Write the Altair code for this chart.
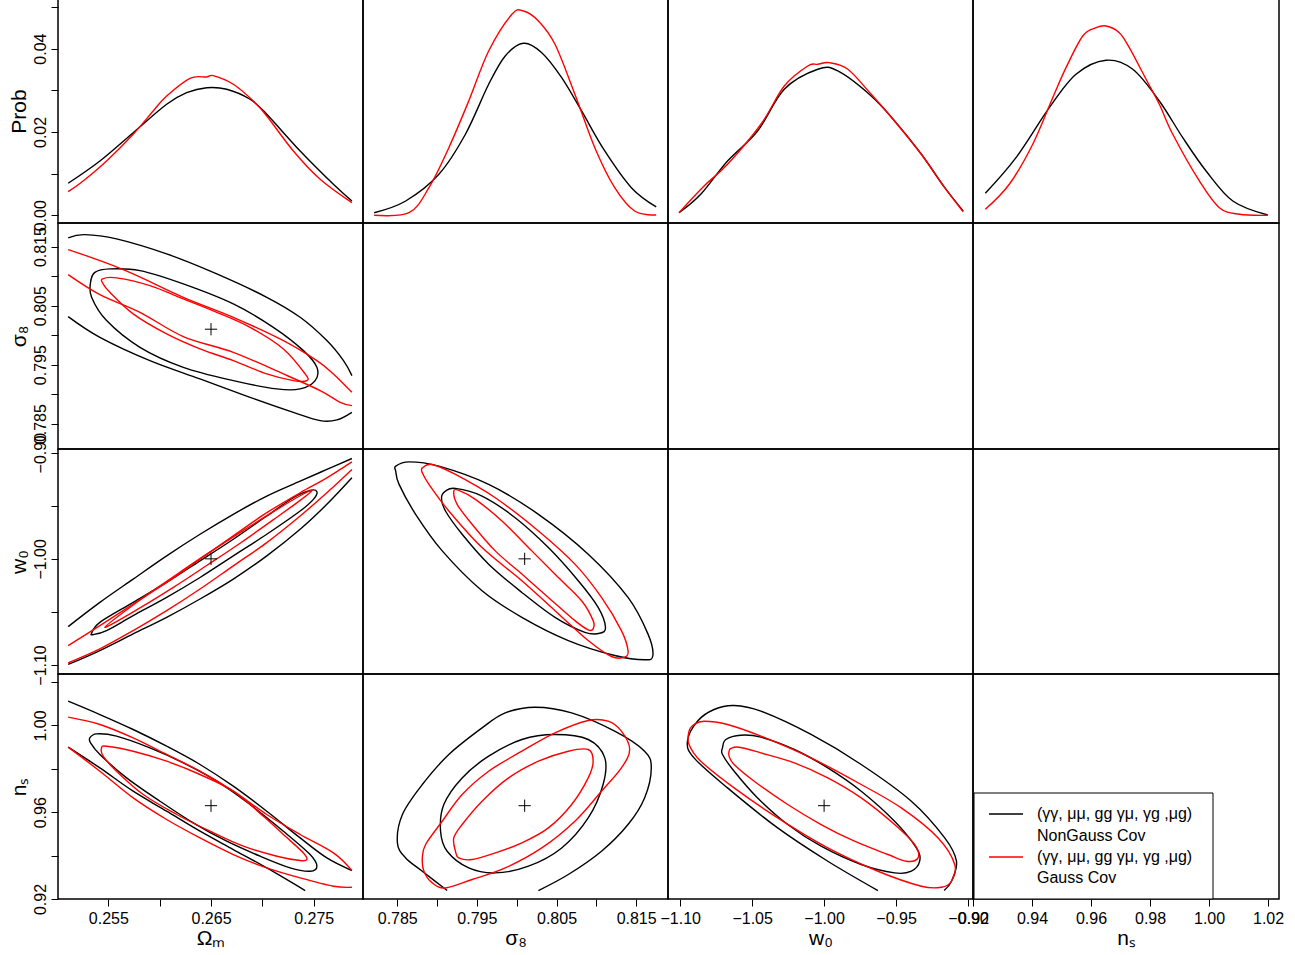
import altair as alt
import pandas as pd

FONT = "Liberation Sans"
BLACK = "#000000"
RED = "#ff0000"

# ---------------- axis ranges and ticks ----------------
om_domain = [0.2501, 0.2798]
s8_domain = [0.7807, 0.8190]
w0_domain = [-1.1085, -0.8965]
ns_domain = [0.9200, 1.0237]
prob_domain = [-0.00185, 0.0519]

om_ticks = [0.255, 0.260, 0.265, 0.270, 0.275]
s8_ticks = [0.785, 0.790, 0.795, 0.800, 0.805, 0.810, 0.815]
w0_ticks = [-1.10, -1.05, -1.00, -0.95, -0.90]
ns_ticks = [0.92, 0.94, 0.96, 0.98, 1.00, 1.02]
prob_ticks = [0.00, 0.01, 0.02, 0.03, 0.04, 0.05]

fid_om = [0.265]
fid_s8 = [0.801]
fid_w0 = [-1.0]
fid_ns = [0.963]

legend_line1 = "(\u03b3\u03b3, \u03bc\u03bc, gg \u03b3\u03bc, \u03b3g ,\u03bcg)"
legend_labels = [[legend_line1, "NonGauss Cov"], [legend_line1, "Gauss Cov"]]

# ---------------- 1D marginals ----------------
om_marg_black_x = [0.25109, 0.25418, 0.25742, 0.26068, 0.26263, 0.26458, 0.26653, 0.2688, 0.27043, 0.27368, 0.27692, 0.27872]
om_marg_black_p = [0.00768, 0.01303, 0.01982, 0.02664, 0.02942, 0.03062, 0.03024, 0.02784, 0.02424, 0.01543, 0.00744, 0.00343]
om_marg_red_x = [0.25109, 0.25255, 0.25483, 0.25742, 0.25937, 0.26068, 0.26295, 0.26458, 0.26522, 0.26717, 0.26912, 0.27043, 0.27302, 0.27563, 0.27872]
om_marg_red_p = [0.00566, 0.00823, 0.01303, 0.01944, 0.02503, 0.02863, 0.03288, 0.03319, 0.0335, 0.03144, 0.02743, 0.02383, 0.01543, 0.00864, 0.00302]

s8_marg_black_x = [0.7821, 0.78606, 0.79023, 0.79356, 0.79648, 0.79856, 0.80085, 0.80315, 0.80565, 0.80815, 0.81106, 0.8144, 0.81752]
s8_marg_black_p = [0.00062, 0.00343, 0.00984, 0.01944, 0.03144, 0.03823, 0.04128, 0.03902, 0.03302, 0.02503, 0.01543, 0.00662, 0.002]
s8_marg_red_x = [0.7821, 0.78648, 0.78898, 0.79148, 0.79398, 0.79648, 0.7994, 0.80085, 0.80273, 0.80481, 0.80731, 0.80981, 0.81231, 0.81481, 0.81752]
s8_marg_red_p = [0.0, 0.00062, 0.00662, 0.01622, 0.02743, 0.03943, 0.04824, 0.04903, 0.04663, 0.04104, 0.02904, 0.01622, 0.00662, 0.00103, 0.00007]

w0_marg_black_x = [-1.10085, -1.08573, -1.06712, -1.04621, -1.02767, -1.00439, -0.99045, -0.96724, -0.951, -0.93239, -0.91615, -0.90333]
w0_marg_black_p = [0.00062, 0.00504, 0.01303, 0.02023, 0.03024, 0.03504, 0.03463, 0.02863, 0.02263, 0.01464, 0.00662, 0.00103]
w0_marg_red_x = [-1.10085, -1.08343, -1.06712, -1.04391, -1.02767, -1.01136, -1.00439, -0.9963, -0.98348, -0.96724, -0.951, -0.93239, -0.91615, -0.90333]
w0_marg_red_p = [0.00062, 0.00703, 0.01224, 0.02184, 0.03103, 0.03583, 0.03624, 0.03662, 0.03504, 0.02904, 0.02263, 0.01464, 0.00662, 0.00086]

ns_marg_black_x = [0.92417, 0.93457, 0.94586, 0.95491, 0.96509, 0.97414, 0.98315, 0.99109, 0.99899, 1.00804, 1.0199]
ns_marg_black_p = [0.00528, 0.01382, 0.02582, 0.03384, 0.0372, 0.03504, 0.02743, 0.01862, 0.01063, 0.00343, 0.00007]
ns_marg_red_x = [0.92417, 0.9323, 0.94024, 0.94702, 0.95152, 0.95719, 0.9617, 0.96509, 0.96959, 0.97298, 0.97865, 0.98315, 0.9877, 0.99671, 1.00349, 1.01027, 1.0199]
ns_marg_red_p = [0.00144, 0.00744, 0.01704, 0.02822, 0.03542, 0.04303, 0.04502, 0.04543, 0.04382, 0.04022, 0.03264, 0.02664, 0.01944, 0.00823, 0.00182, 0.00024, 0.0]

# ---------------- Omega_m - sigma_8 contours ----------------
oms8_black_outer_top_x = [0.25109, 0.25271, 0.2558, 0.26068, 0.26556, 0.27043, 0.27368, 0.27628, 0.2779, 0.27872]
oms8_black_outer_top_y = [0.81648, 0.81703, 0.81631, 0.81376, 0.81037, 0.80641, 0.80302, 0.79907, 0.79568, 0.79314]
oms8_black_outer_bot_x = [0.25109, 0.25418, 0.25905, 0.26393, 0.2688, 0.27302, 0.27563, 0.27726, 0.27872]
oms8_black_outer_bot_y = [0.80314, 0.79963, 0.79568, 0.79258, 0.78946, 0.78691, 0.78551, 0.78563, 0.78691]
oms8_black_inner_x = [0.25327, 0.25369, 0.25515, 0.25808, 0.2623, 0.26717, 0.27107, 0.274, 0.27531, 0.27514, 0.27368, 0.27141, 0.26717, 0.2623, 0.25808, 0.25483, 0.25337]
oms8_black_inner_y = [0.80895, 0.81064, 0.81122, 0.81093, 0.80868, 0.80529, 0.80132, 0.79737, 0.79454, 0.79229, 0.79088, 0.79088, 0.79229, 0.79454, 0.79793, 0.80246, 0.80641]
oms8_red_outer_top_x = [0.25109, 0.25418, 0.25742, 0.2623, 0.26717, 0.27205, 0.27531, 0.27692, 0.27872]
oms8_red_outer_top_y = [0.81449, 0.81263, 0.81037, 0.80641, 0.80302, 0.79907, 0.79568, 0.79342, 0.7903]
oms8_red_outer_bot_x = [0.25109, 0.25418, 0.25808, 0.2623, 0.26717, 0.27205, 0.27563, 0.27758, 0.27872]
oms8_red_outer_bot_y = [0.81025, 0.80686, 0.80386, 0.79976, 0.79708, 0.79342, 0.79059, 0.78861, 0.78805]
oms8_red_inner_x = [0.25444, 0.2558, 0.25905, 0.2623, 0.26556, 0.2688, 0.27205, 0.27417, 0.27433, 0.27302, 0.27043, 0.26717, 0.26393, 0.26068, 0.25742, 0.25515, 0.2545]
oms8_red_inner_y = [0.80953, 0.8097, 0.80839, 0.80614, 0.80386, 0.80132, 0.79766, 0.79342, 0.79229, 0.79229, 0.79342, 0.79568, 0.79766, 0.8002, 0.80359, 0.80725, 0.80868]

# ---------------- Omega_m - w0 contours ----------------
omw0_black_outer_top_x = [0.25109, 0.25418, 0.25742, 0.26068, 0.26393, 0.26717, 0.27043, 0.27368, 0.27628, 0.27872]
omw0_black_outer_top_y = [-1.06385, -1.04103, -1.01906, -0.99718, -0.97681, -0.95803, -0.94084, -0.92676, -0.91577, -0.90544]
omw0_black_outer_bot_x = [0.25109, 0.25418, 0.25742, 0.26068, 0.26393, 0.26717, 0.27043, 0.27368, 0.27628, 0.27872]
omw0_black_outer_bot_y = [-1.09953, -1.08639, -1.07071, -1.05512, -1.03784, -1.01906, -0.99718, -0.97211, -0.94864, -0.92366]
omw0_black_inner_x = [0.25337, 0.25418, 0.25742, 0.26068, 0.26393, 0.26717, 0.27043, 0.27302, 0.27465, 0.27531, 0.27497, 0.27368, 0.27043, 0.26717, 0.26393, 0.26068, 0.25742, 0.25483, 0.25352]
omw0_black_inner_y = [-1.07014, -1.05981, -1.04103, -1.02225, -1.00188, -0.9815, -0.95962, -0.94244, -0.93549, -0.93681, -0.94394, -0.95493, -0.97681, -0.99718, -1.01756, -1.03634, -1.05352, -1.06761, -1.07136]
omw0_red_outer_top_x = [0.25109, 0.25418, 0.25742, 0.26068, 0.26393, 0.26717, 0.27043, 0.27368, 0.27628, 0.27872]
omw0_red_outer_top_y = [-1.08169, -1.06291, -1.04254, -1.02225, -1.00028, -0.9784, -0.95652, -0.93774, -0.92366, -0.90864]
omw0_red_outer_bot_x = [0.25109, 0.25418, 0.25742, 0.26068, 0.26393, 0.26717, 0.27043, 0.27368, 0.27628, 0.27872]
omw0_red_outer_bot_y = [-1.09794, -1.08479, -1.06761, -1.04883, -1.02845, -1.00657, -0.98469, -0.95962, -0.93774, -0.91577]
omw0_red_inner_x = [0.25466, 0.25808, 0.26133, 0.26458, 0.26783, 0.27107, 0.27368, 0.27482, 0.27368, 0.27107, 0.26783, 0.26458, 0.26133, 0.25808]
omw0_red_inner_y = [-1.06451, -1.03878, -1.0169, -0.99559, -0.9753, -0.95558, -0.94056, -0.93549, -0.94488, -0.9631, -0.98526, -1.00629, -1.02695, -1.04629]

# ---------------- Omega_m - n_s contours ----------------
omns_black_outer_top_x = [0.25109, 0.25418, 0.25742, 0.26068, 0.26393, 0.26717, 0.27043, 0.27368, 0.27628, 0.27872]
omns_black_outer_top_y = [1.01117, 1.0050, 0.99812, 0.99043, 0.9820, 0.97199, 0.96046, 0.94815, 0.93893, 0.93312]
omns_black_outer_bot_x = [0.25109, 0.25418, 0.25742, 0.26068, 0.26393, 0.26717, 0.27043, 0.27417]
omns_black_outer_bot_y = [0.98997, 0.98042, 0.96968, 0.96046, 0.95124, 0.9428, 0.93432, 0.9239]
omns_black_inner_x = [0.2532, 0.25386, 0.2558, 0.25905, 0.2623, 0.26556, 0.2688, 0.27205, 0.27465, 0.27531, 0.27465, 0.2727, 0.26978, 0.26653, 0.26327, 0.26003, 0.25678, 0.25418, 0.25327]
omns_black_inner_y = [0.99425, 0.9961, 0.99504, 0.98964, 0.98273, 0.97429, 0.96355, 0.95124, 0.9405, 0.93511, 0.9328, 0.93435, 0.93972, 0.94662, 0.95509, 0.96507, 0.97584, 0.98657, 0.99195]
omns_red_outer_top_x = [0.25109, 0.25418, 0.25742, 0.26068, 0.26393, 0.26717, 0.27043, 0.27368, 0.27692, 0.27872]
omns_red_outer_top_y = [1.0038, 1.00043, 0.99425, 0.9866, 0.9789, 0.96968, 0.95894, 0.94972, 0.94124, 0.93312]
omns_red_outer_bot_x = [0.25109, 0.25418, 0.25742, 0.26068, 0.26393, 0.26717, 0.27043, 0.27368, 0.27692, 0.27872]
omns_red_outer_bot_y = [0.98997, 0.9789, 0.96659, 0.95663, 0.94815, 0.9405, 0.93432, 0.92971, 0.92589, 0.92543]
omns_red_inner_x = [0.25434, 0.25483, 0.25742, 0.26068, 0.26393, 0.26717, 0.2701, 0.27205, 0.274, 0.27433, 0.27368, 0.27141, 0.26815, 0.2649, 0.26166, 0.2584, 0.2558, 0.2545]
omns_red_inner_y = [0.98964, 0.99043, 0.98812, 0.98351, 0.97738, 0.96968, 0.95816, 0.94972, 0.94124, 0.93819, 0.93773, 0.93972, 0.94433, 0.95124, 0.95894, 0.96816, 0.9789, 0.98582]

# ---------------- sigma_8 - w0 contours ----------------
s8w0_black_outer_x = [0.78481, 0.78648, 0.79023, 0.79648, 0.80273, 0.80898, 0.81398, 0.81648, 0.8171, 0.81606, 0.81231, 0.80648, 0.80065, 0.79565, 0.79065, 0.78731, 0.78523, 0.78481]
s8w0_black_outer_y = [-0.91267, -0.90863, -0.91267, -0.92986, -0.95803, -0.99559, -1.03634, -1.07071, -1.09108, -1.09512, -1.09108, -1.077, -1.05512, -1.03005, -0.99249, -0.95803, -0.92986, -0.91737]
s8w0_black_inner_x = [0.79056, 0.79106, 0.79231, 0.79565, 0.79981, 0.80398, 0.80773, 0.81023, 0.81115, 0.81044, 0.80856, 0.80481, 0.80065, 0.79648, 0.79315, 0.79106]
s8w0_black_inner_y = [-0.94244, -0.93615, -0.93361, -0.94084, -0.96122, -0.98939, -1.02066, -1.04573, -1.06451, -1.07014, -1.0692, -1.05512, -1.03164, -1.00498, -0.97681, -0.95493]
s8w0_red_outer_x = [0.78815, 0.7894, 0.79231, 0.79731, 0.80273, 0.80731, 0.81065, 0.81315, 0.81398, 0.81356, 0.8119, 0.80898, 0.80481, 0.80065, 0.79565, 0.79148, 0.78898, 0.78815]
s8w0_red_outer_y = [-0.91427, -0.91108, -0.92047, -0.94244, -0.97371, -1.00498, -1.03634, -1.06761, -1.08639, -1.09268, -1.09202, -1.077, -1.04883, -1.02066, -0.98939, -0.95493, -0.92986, -0.91896]
s8w0_red_inner_x = [0.7921, 0.79273, 0.79481, 0.79815, 0.8019, 0.80523, 0.80815, 0.8096, 0.8096, 0.80898, 0.80731, 0.80398, 0.80065, 0.79731, 0.7944, 0.79252]
s8w0_red_inner_y = [-0.93615, -0.93549, -0.94394, -0.96432, -0.99249, -1.01756, -1.03944, -1.05822, -1.06601, -1.06695, -1.05822, -1.03634, -1.01437, -0.99249, -0.96742, -0.94864]

# ---------------- sigma_8 - n_s contours ----------------
s8ns_black_outer_x = [0.79127, 0.78815, 0.78606, 0.78502, 0.78565, 0.78815, 0.79148, 0.79565, 0.79856, 0.80231, 0.8069, 0.81231, 0.81606, 0.8169, 0.81606, 0.81398, 0.81065, 0.80648, 0.80273]
s8ns_black_outer_y = [0.9239, 0.9328, 0.93893, 0.94585, 0.95894, 0.97277, 0.9866, 0.99886, 1.00578, 1.00841, 1.00578, 0.99734, 0.98812, 0.98042, 0.96659, 0.95433, 0.94202, 0.93128, 0.9239]
s8ns_black_inner_x = [0.79044, 0.79085, 0.79315, 0.79648, 0.80065, 0.80481, 0.80898, 0.81106, 0.81085, 0.80898, 0.80565, 0.80148, 0.79731, 0.79398, 0.79127]
s8ns_black_inner_y = [0.95124, 0.96355, 0.97581, 0.98582, 0.99351, 0.99582, 0.99351, 0.98503, 0.97277, 0.95737, 0.94354, 0.93511, 0.93202, 0.93432, 0.94202]
s8ns_red_outer_x = [0.78815, 0.78856, 0.79065, 0.79315, 0.79648, 0.80065, 0.80481, 0.80898, 0.81148, 0.81315, 0.81419, 0.81315, 0.81065, 0.80731, 0.80315, 0.79856, 0.7944, 0.79106, 0.7894, 0.78835]
s8ns_red_outer_y = [0.93893, 0.94511, 0.95585, 0.96816, 0.9789, 0.98812, 0.99656, 1.00227, 1.00195, 0.99734, 0.9889, 0.98042, 0.96968, 0.95585, 0.94354, 0.93432, 0.92897, 0.9251, 0.92741, 0.9328]
s8ns_red_inner_x = [0.79231, 0.7921, 0.79315, 0.79565, 0.79898, 0.80273, 0.80648, 0.80898, 0.8096, 0.80898, 0.8069, 0.80398, 0.80065, 0.79731, 0.7944, 0.79273]
s8ns_red_inner_y = [0.94202, 0.94815, 0.95433, 0.96507, 0.97581, 0.98351, 0.98812, 0.9889, 0.98351, 0.97581, 0.96355, 0.95276, 0.94585, 0.94124, 0.93819, 0.93893]

# ---------------- w0 - n_s contours ----------------
w0ns_black_outer_x = [-0.96257, -0.99742, -1.03227, -1.06712, -1.0904, -1.095, -1.08803, -1.07646, -1.06252, -1.04391, -1.00906, -0.97421, -0.93936, -0.91615, -0.908, -0.91148, -0.91657]
w0ns_black_outer_y = [0.9239, 0.93741, 0.95276, 0.9712, 0.98503, 0.99273, 1.00195, 1.00734, 1.00919, 1.00656, 0.99582, 0.98199, 0.96507, 0.94815, 0.93741, 0.92819, 0.9239]
w0ns_black_inner_x = [-1.07061, -1.06831, -1.05785, -1.04391, -1.0207, -0.99742, -0.97421, -0.951, -0.93588, -0.93358, -0.93936, -0.951, -0.97421, -1.00209, -1.0253, -1.04621, -1.06252, -1.07061]
w0ns_black_inner_y = [0.98964, 0.99351, 0.9955, 0.99458, 0.9889, 0.98042, 0.96968, 0.95585, 0.94354, 0.93741, 0.9328, 0.93202, 0.93589, 0.94433, 0.95433, 0.96659, 0.9789, 0.9866]
w0ns_red_outer_x = [-1.09389, -1.0904, -1.08343, -1.06712, -1.04391, -1.00906, -0.97421, -0.94633, -0.92075, -0.90918, -0.91148, -0.91845, -0.93239, -0.96257, -0.99742, -1.03227, -1.06252, -1.08573, -1.09389]
w0ns_red_outer_y = [0.99734, 1.00043, 1.00195, 1.00043, 0.99504, 0.98503, 0.97277, 0.96198, 0.94815, 0.93589, 0.92819, 0.92542, 0.92589, 0.9328, 0.94354, 0.95737, 0.9712, 0.98351, 0.99121]
w0ns_red_inner_x = [-1.066, -1.06482, -1.05904, -1.04391, -1.0207, -0.99742, -0.97421, -0.951, -0.93706, -0.93469, -0.94285, -0.9556, -0.97888, -1.00209, -1.0253, -1.04858, -1.06252, -1.066]
w0ns_red_inner_y = [0.98812, 0.98937, 0.98997, 0.98734, 0.98273, 0.97581, 0.96659, 0.95433, 0.94511, 0.93893, 0.93741, 0.9405, 0.94663, 0.95433, 0.96355, 0.97429, 0.98199, 0.98582]

# ---------------- layout ----------------
col_widths = [305, 305, 305, 306]
row_heights = [224, 226, 225, 225]

AXIS_COMMON = dict(
    tickColor="black", tickSize=7, tickWidth=1, labelColor="black", labelFont=FONT,
    labelFontSize=16, titleFont=FONT, titleFontSize=21, titleFontWeight="normal",
    titleColor="black", domain=False, grid=False, labelOverlap=False, labelFlush=False,
)


def left_axis(title, values, expr):
    return alt.Axis(title=title, values=values, labelExpr=expr, labelAngle=-90,
                    labelAlign="center", labelBaseline="bottom", labelPadding=3,
                    titlePadding=3, **AXIS_COMMON)


def bottom_axis(title, values, expr):
    return alt.Axis(title=title, values=values, labelExpr=expr, labelAngle=0,
                    labelAlign="center", labelBaseline="top", labelPadding=4,
                    titlePadding=1, **AXIS_COMMON)


def sc(domain):
    return alt.Scale(domain=domain, nice=False, zero=False)


CROSS = "M-1,0L1,0M0,-1L0,1"


def panel(w, h, xdom, ydom, xaxis, yaxis, curves, cross=None):
    xs, ys = sc(xdom), sc(ydom)
    layers = []
    for x, y, color, closed in curves:
        df = pd.DataFrame({"x": x, "y": y, "o": list(range(len(x)))})
        layers.append(
            alt.Chart(df).mark_line(
                color=color, strokeWidth=1.4, clip=True,
                interpolate="cardinal-closed" if closed else "cardinal",
            ).encode(
                x=alt.X("x:Q", scale=xs, axis=xaxis),
                y=alt.Y("y:Q", scale=ys, axis=yaxis),
                order="o:Q",
            )
        )
    if cross is not None:
        df = pd.DataFrame({"x": cross[0], "y": cross[1]})
        layers.append(
            alt.Chart(df).mark_point(shape=CROSS, size=150, filled=False, color="black",
                                     strokeWidth=1, opacity=1).encode(
                x=alt.X("x:Q", scale=xs, axis=xaxis),
                y=alt.Y("y:Q", scale=ys, axis=yaxis),
            )
        )
    return alt.layer(*layers).properties(width=w, height=h)


def empty(w, h):
    dummy = pd.DataFrame({"v": [0]})
    return alt.Chart(dummy).mark_point(opacity=0).encode(
        x=alt.value(5), y=alt.value(5)
    ).properties(width=w, height=h)


EXPR_PROB = "round(datum.value*100) % 2 == 0 ? format(datum.value, '.2f') : ''"
EXPR_S8 = "round(datum.value*1000) % 10 == 5 ? format(datum.value, '.3f') : ''"
EXPR_W0_Y = "round(datum.value*100) % 10 == 0 ? format(datum.value, '.2f') : ''"
EXPR_NS_Y = "round(datum.value*100) % 4 == 0 ? format(datum.value, '.2f') : ''"
EXPR_OM = "round(datum.value*1000) % 10 == 5 ? format(datum.value, '.3f') : ''"
EXPR_ALL2 = "format(datum.value, '.2f')"

T_OM = "\u03a9\u2098"
T_S8 = "\u03c3\u2088"
T_W0 = "w\u2080"
T_NS = "n\u209b"

W, H = col_widths, row_heights

# row 1: marginals
r1 = [
    panel(W[0], H[0], om_domain, prob_domain, None, left_axis("Prob", prob_ticks, EXPR_PROB),
          [(om_marg_black_x, om_marg_black_p, BLACK, False), (om_marg_red_x, om_marg_red_p, RED, False)]),
    panel(W[1], H[0], s8_domain, prob_domain, None, None,
          [(s8_marg_black_x, s8_marg_black_p, BLACK, False), (s8_marg_red_x, s8_marg_red_p, RED, False)]),
    panel(W[2], H[0], w0_domain, prob_domain, None, None,
          [(w0_marg_black_x, w0_marg_black_p, BLACK, False), (w0_marg_red_x, w0_marg_red_p, RED, False)]),
    panel(W[3], H[0], ns_domain, prob_domain, None, None,
          [(ns_marg_black_x, ns_marg_black_p, BLACK, False), (ns_marg_red_x, ns_marg_red_p, RED, False)]),
]

# row 2
r2 = [
    panel(W[0], H[1], om_domain, s8_domain, None, left_axis(T_S8, s8_ticks, EXPR_S8),
          [(oms8_black_outer_top_x, oms8_black_outer_top_y, BLACK, False),
           (oms8_black_outer_bot_x, oms8_black_outer_bot_y, BLACK, False),
           (oms8_black_inner_x, oms8_black_inner_y, BLACK, True),
           (oms8_red_outer_top_x, oms8_red_outer_top_y, RED, False),
           (oms8_red_outer_bot_x, oms8_red_outer_bot_y, RED, False),
           (oms8_red_inner_x, oms8_red_inner_y, RED, True)],
          cross=(fid_om, fid_s8)),
    empty(W[1], H[1]), empty(W[2], H[1]), empty(W[3], H[1]),
]

# row 3
r3 = [
    panel(W[0], H[2], om_domain, w0_domain, None, left_axis(T_W0, w0_ticks, EXPR_W0_Y),
          [(omw0_black_outer_top_x, omw0_black_outer_top_y, BLACK, False),
           (omw0_black_outer_bot_x, omw0_black_outer_bot_y, BLACK, False),
           (omw0_black_inner_x, omw0_black_inner_y, BLACK, True),
           (omw0_red_outer_top_x, omw0_red_outer_top_y, RED, False),
           (omw0_red_outer_bot_x, omw0_red_outer_bot_y, RED, False),
           (omw0_red_inner_x, omw0_red_inner_y, RED, True)],
          cross=(fid_om, fid_w0)),
    panel(W[1], H[2], s8_domain, w0_domain, None, None,
          [(s8w0_black_outer_x, s8w0_black_outer_y, BLACK, True),
           (s8w0_black_inner_x, s8w0_black_inner_y, BLACK, True),
           (s8w0_red_outer_x, s8w0_red_outer_y, RED, True),
           (s8w0_red_inner_x, s8w0_red_inner_y, RED, True)],
          cross=(fid_s8, fid_w0)),
    empty(W[2], H[2]), empty(W[3], H[2]),
]

# row 4
dummy = pd.DataFrame({"v": fid_ns})
legend_layers = [
    alt.Chart(dummy).mark_point(opacity=0).encode(
        x=alt.X("v:Q", scale=sc(ns_domain), axis=bottom_axis(T_NS, ns_ticks, EXPR_ALL2)),
        y=alt.value(5)),
    alt.Chart(dummy).mark_rect(fill="white", stroke="black", strokeWidth=1).encode(
        x=alt.value(1), x2=alt.value(240), y=alt.value(119), y2=alt.value(225)),
    alt.Chart(dummy).mark_rule(color=BLACK, strokeWidth=1.4).encode(
        x=alt.value(16), x2=alt.value(50), y=alt.value(140)),
    alt.Chart(dummy).mark_rule(color=RED, strokeWidth=1.4).encode(
        x=alt.value(16), x2=alt.value(50), y=alt.value(183)),
]
for (l1, l2), (ya, yb) in zip(legend_labels, [(140, 162), (183, 204)]):
    for txt, yy in ((l1, ya), (l2, yb)):
        legend_layers.append(
            alt.Chart(dummy).mark_text(align="left", baseline="middle", font=FONT,
                                       fontSize=16, color="black").encode(
                x=alt.value(64), y=alt.value(yy), text=alt.value(txt)))
legend_panel = alt.layer(*legend_layers).properties(width=W[3], height=H[3])

r4 = [
    panel(W[0], H[3], om_domain, ns_domain, bottom_axis(T_OM, om_ticks, EXPR_OM),
          left_axis(T_NS, ns_ticks, EXPR_NS_Y),
          [(omns_black_outer_top_x, omns_black_outer_top_y, BLACK, False),
           (omns_black_outer_bot_x, omns_black_outer_bot_y, BLACK, False),
           (omns_black_inner_x, omns_black_inner_y, BLACK, True),
           (omns_red_outer_top_x, omns_red_outer_top_y, RED, False),
           (omns_red_outer_bot_x, omns_red_outer_bot_y, RED, False),
           (omns_red_inner_x, omns_red_inner_y, RED, True)],
          cross=(fid_om, fid_ns)),
    panel(W[1], H[3], s8_domain, ns_domain, bottom_axis(T_S8, s8_ticks, EXPR_S8), None,
          [(s8ns_black_outer_x, s8ns_black_outer_y, BLACK, False),
           (s8ns_black_inner_x, s8ns_black_inner_y, BLACK, True),
           (s8ns_red_outer_x, s8ns_red_outer_y, RED, True),
           (s8ns_red_inner_x, s8ns_red_inner_y, RED, True)],
          cross=(fid_s8, fid_ns)),
    panel(W[2], H[3], w0_domain, ns_domain, bottom_axis(T_W0, w0_ticks, EXPR_ALL2), None,
          [(w0ns_black_outer_x, w0ns_black_outer_y, BLACK, False),
           (w0ns_black_inner_x, w0ns_black_inner_y, BLACK, True),
           (w0ns_red_outer_x, w0ns_red_outer_y, RED, True),
           (w0ns_red_inner_x, w0ns_red_inner_y, RED, True)],
          cross=(fid_w0, fid_ns)),
    legend_panel,
]

chart = alt.concat(*(r1 + r2 + r3 + r4), columns=4, spacing=0, bounds="flush").resolve_scale(
    x="independent", y="independent"
).properties(
    padding={"left": 7, "top": -2, "right": 0, "bottom": 0}
).configure_view(
    stroke="black", strokeWidth=1.5
).configure_concat(spacing=0)

chart.save("out.html", embed_options={"renderer": "svg", "actions": False})
